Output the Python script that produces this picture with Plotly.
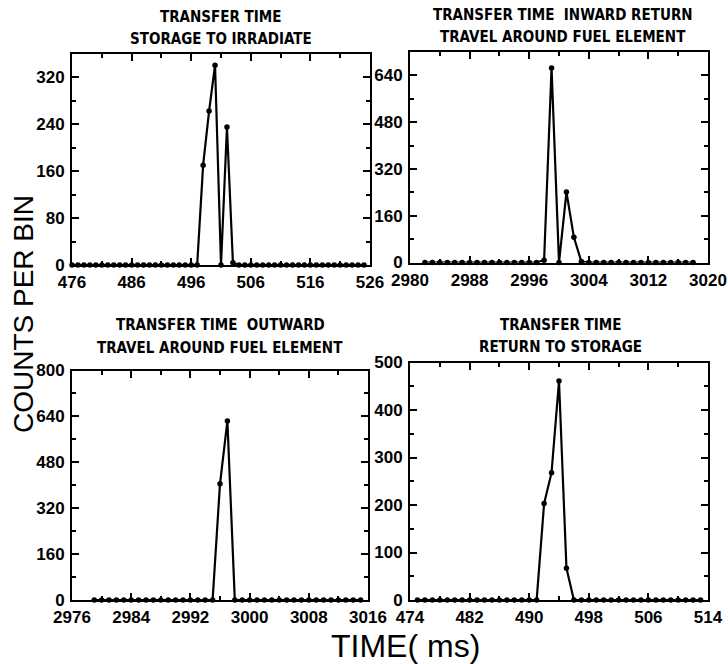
import plotly.graph_objects as go

# Transfer-time histograms, counts per 1 ms bin

# Storage to irradiate
t_store_irr = list(range(476, 526))
c_store_irr = [0] * 21 + [0, 170, 262, 340, 0, 235, 4] + [0] * 22

# Inward return, travel around fuel element
t_inward = list(range(2982, 3019))
c_inward = [0] * 16 + [8, 665, 0, 241, 86, 3] + [0] * 15

# Outward travel around fuel element
t_outward = list(range(2979, 3016))
c_outward = [0] * 16 + [0, 405, 624, 0] + [0] * 17

# Return to storage
t_return = list(range(475, 514))
c_return = [0] * 16 + [0, 203, 268, 461, 67, 0] + [0] * 17

panels = [
    dict(t=t_store_irr, c=c_store_irr, xr=[476, 526], xt=[476, 486, 496, 506, 516, 526], xminor=5,
         yr=[0, 360], yt=[0, 80, 160, 240, 320], yminor=40,
         dom_x=[72, 370], dom_y=[53.5, 265],
         title=["TRANSFER TIME", "STORAGE TO IRRADIATE"], tx=221, ty=[17, 39]),
    dict(t=t_inward, c=c_inward, xr=[2980, 3020], xt=[2980, 2988, 2996, 3004, 3012, 3020], xminor=4,
         yr=[0, 720], yt=[0, 160, 320, 480, 640], yminor=80,
         dom_x=[410, 708], dom_y=[52, 262.5],
         title=["TRANSFER TIME  INWARD RETURN", "TRAVEL AROUND FUEL ELEMENT"], tx=563, ty=[15, 37]),
    dict(t=t_outward, c=c_outward, xr=[2976, 3016], xt=[2976, 2984, 2992, 3000, 3008, 3016], xminor=4,
         yr=[0, 800], yt=[0, 160, 320, 480, 640, 800], yminor=80,
         dom_x=[72, 368], dom_y=[370.5, 600],
         title=["TRANSFER TIME  OUTWARD", "TRAVEL AROUND FUEL ELEMENT"], tx=220, ty=[325, 348]),
    dict(t=t_return, c=c_return, xr=[474, 514], xt=[474, 482, 490, 498, 506, 514], xminor=4,
         yr=[0, 500], yt=[0, 100, 200, 300, 400, 500], yminor=50,
         dom_x=[410, 708], dom_y=[362.5, 600],
         title=["TRANSFER TIME", "RETURN TO STORAGE"], tx=560, ty=[325, 347]),
]

W, H = 728, 664
TICK_FONT = dict(family="Liberation Sans, Arial, sans-serif", size=17, color="black", weight="bold")
TITLE_FONT = dict(family="DejaVu Sans Condensed, Liberation Sans, sans-serif",
                  size=15, color="black", weight="bold")
LABEL_FONT = dict(family="Liberation Sans, Arial, sans-serif", size=28, color="black")

fig = go.Figure()
layout = dict(width=W, height=H, margin=dict(l=0, r=0, t=0, b=0, autoexpand=False),
              paper_bgcolor="white", plot_bgcolor="white", showlegend=False)
annotations = []

for i, p in enumerate(panels, start=1):
    xa = "x" if i == 1 else f"x{i}"
    ya = "y" if i == 1 else f"y{i}"
    fig.add_trace(go.Scatter(
        x=p["t"], y=p["c"], xaxis=xa, yaxis=ya, mode="lines+markers",
        line=dict(color="black", width=2.2),
        marker=dict(color="black", size=5.5),
        cliponaxis=False,
    ))
    common = dict(showline=True, linecolor="black", linewidth=2, mirror="allticks",
                  ticks="inside", ticklen=7, tickwidth=2, tickcolor="black",
                  showgrid=False, zeroline=False, tickfont=TICK_FONT, fixedrange=True,
                  automargin=False, ticklabeloverflow="allow")
    layout["xaxis" if i == 1 else f"xaxis{i}"] = dict(
        common, anchor=ya, range=p["xr"], tickmode="array", tickvals=p["xt"],
        ticktext=[str(v) for v in p["xt"]], ticklabelstandoff=1,
        domain=[p["dom_x"][0] / W, p["dom_x"][1] / W],
        minor=dict(dtick=p["xminor"], tick0=p["xr"][0], ticks="inside", ticklen=4,
                   tickwidth=1.5, tickcolor="black", showgrid=False),
    )
    layout["yaxis" if i == 1 else f"yaxis{i}"] = dict(
        common, anchor=xa, range=p["yr"], tickmode="array", tickvals=p["yt"],
        ticktext=[str(v) for v in p["yt"]], ticklabelstandoff=2,
        domain=[1 - p["dom_y"][1] / H, 1 - p["dom_y"][0] / H],
        minor=dict(dtick=p["yminor"], tick0=0, ticks="inside", ticklen=4,
                   tickwidth=1.5, tickcolor="black", showgrid=False),
    )
    for line, yy in zip(p["title"], p["ty"]):
        annotations.append(dict(text=line, x=p["tx"] / W, y=1 - yy / H, xref="paper", yref="paper",
                                xanchor="center", yanchor="middle", showarrow=False, font=TITLE_FONT))

annotations.append(dict(text="COUNTS PER BIN", x=23 / W, y=1 - 314 / H, xref="paper", yref="paper",
                        xanchor="center", yanchor="middle", textangle=-90, showarrow=False,
                        font=LABEL_FONT))
annotations.append(dict(text="TIME( ms)", x=405 / W, y=1 - 646 / H, xref="paper", yref="paper",
                        xanchor="center", yanchor="middle", showarrow=False,
                        font=dict(LABEL_FONT, size=32)))
layout["annotations"] = annotations
fig.update_layout(**layout)
fig.write_html("out.html")
